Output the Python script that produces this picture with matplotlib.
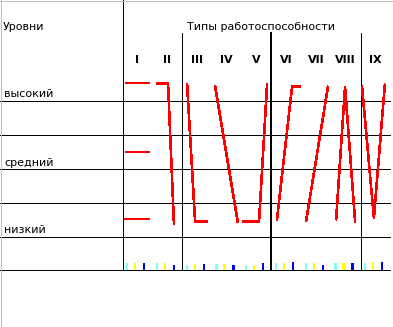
import matplotlib
matplotlib.use("Agg")
import matplotlib.pyplot as plt
from matplotlib.lines import Line2D

# ---------------- data ----------------
types = ["I", "II", "III", "IV", "V", "VI", "VII", "VIII", "IX"]
level_names = ["высокий", "средний", "низкий"]
level_values = [3, 2, 1]
title_left = "Уровни"
title_right = "Типы работоспособности"

# red profile polylines: (x offset inside column, level) per type; type I has 3 separate dashes
type_I_dashes = [[(0.08, 3.01), (0.92, 3.01)],
                 [(0.08, 2.00), (0.92, 2.00)],
                 [(0.05, 1.01), (0.92, 1.01)]]
profile_x = {
    "II":   [0.13, 0.53, 0.73],
    "III":  [0.17, 0.44, 0.87],
    "IV":   [0.11, 0.88],
    "V":    [0.05, 0.59, 0.86],
    "VI":   [0.19, 0.70, 0.99],
    "VII":  [0.17, 0.91],
    "VIII": [0.18, 0.48, 0.82],
    "IX":   [0.05, 0.45, 0.82],
}
profile_level = {
    "II":   [3.01, 3.01, 0.94],
    "III":  [3.01, 0.98, 0.98],
    "IV":   [2.98, 0.96],
    "V":    [0.98, 0.98, 3.00],
    "VI":   [1.00, 2.96, 2.96],
    "VII":  [0.98, 2.97],
    "VIII": [1.00, 2.96, 0.97],
    "IX":   [2.97, 1.03, 3.00],
}

# small bars at the bottom row
bar_cyan = [7, 7, 5, 6, 5, 7, 7, 7, 7]
bar_yellow = [7, 7, 6, 6, 5, 7, 7, 7, 8]
bar_blue = [7, 5, 6, 5, 7, 8, 5, 7, 8]

# ---------------- layout ----------------
W, H = 393, 327
DPI = 100
x0_px, colw = 122.5, 29.75       # left of type columns, column width
y_hi_px, lev_px = 84.0, 68.0      # pixel of level 3, pixels per level

def lev(py):
    return 3 - (py - y_hi_px) / lev_px

def ux(px):
    return (px - x0_px) / colw

fig = plt.figure(figsize=(W / DPI, H / DPI), dpi=DPI)
fig.patch.set_facecolor("white")
ax = fig.add_axes([0, 0, 1, 1])
ax.set_xlim(ux(0), ux(W))
ax.set_ylim(lev(H), lev(0))
ax.axis("off")

black = "black"
lw = 0.72
# horizontal grid lines
for py in [101, 135, 169, 203, 237, 270]:
    ax.add_line(Line2D([ux(0), ux(390)], [lev(py), lev(py)], color=black, lw=lw,
                       snap=True))
# vertical lines
ax.add_line(Line2D([0, 0], [lev(0), lev(270)], color=black, lw=lw, snap=True))
for xv, w in [(2, lw), (5, 1.44), (8, lw)]:
    ax.add_line(Line2D([xv, xv], [lev(33), lev(270)], color=black, lw=w, snap=True))

# light gray border top/left
fig.add_artist(Line2D([0, 1], [1 - 0.5 / H, 1 - 0.5 / H], color="#c0c0c0", lw=0.72,
                      transform=fig.transFigure, snap=True))
fig.add_artist(Line2D([0.5 / W, 0.5 / W], [0, 1], color="#c0c0c0", lw=0.72,
                      transform=fig.transFigure, snap=True))

red = "#ff0000"
rlw = 1.15
for seg in type_I_dashes:
    xs = [0 + p[0] for p in seg]
    ys = [p[1] for p in seg]
    ax.plot(xs, ys, color=red, lw=rlw, solid_capstyle="butt", antialiased=False)
for k, t in enumerate(types):
    if t not in profile_x:
        continue
    xs = [k + v for v in profile_x[t]]
    ax.plot(xs, profile_level[t], color=red, lw=rlw, solid_capstyle="butt",
            solid_joinstyle="miter", antialiased=False)

# texts
fs = 8
ax.text(ux(3), lev(30), title_left, fontsize=fs, ha="left", va="baseline")
ax.text(ux(187), lev(30), title_right, fontsize=fs, ha="left", va="baseline")
for k, t in enumerate(types):
    ax.text(k + 0.5, lev(63), t, fontsize=8, fontweight="bold", ha="center",
            va="baseline")
for name, lv, base in zip(level_names, level_values, [97, 166, 233]):
    ax.text(ux(4), lev(base), name, fontsize=fs, ha="left", va="baseline")

# bottom bars
bax = fig.add_axes([x0_px / W, (H - 270) / H, 9 * colw / W, 33 / H])
bax.set_xlim(0, 9)
bax.set_ylim(0, 33)
bax.axis("off")
bax.patch.set_alpha(0)
offs = [0.16, 0.43, 0.73]
bw = 0.08
for j, (vals, col) in enumerate(zip([bar_cyan, bar_yellow, bar_blue],
                                    ["#80ffff", "#ffff00", "#0000ff"])):
    bax.bar([k + offs[j] for k in range(len(types))], vals, width=bw, color=col,
            align="center", linewidth=0)

fig.savefig("out.png", dpi=DPI)
